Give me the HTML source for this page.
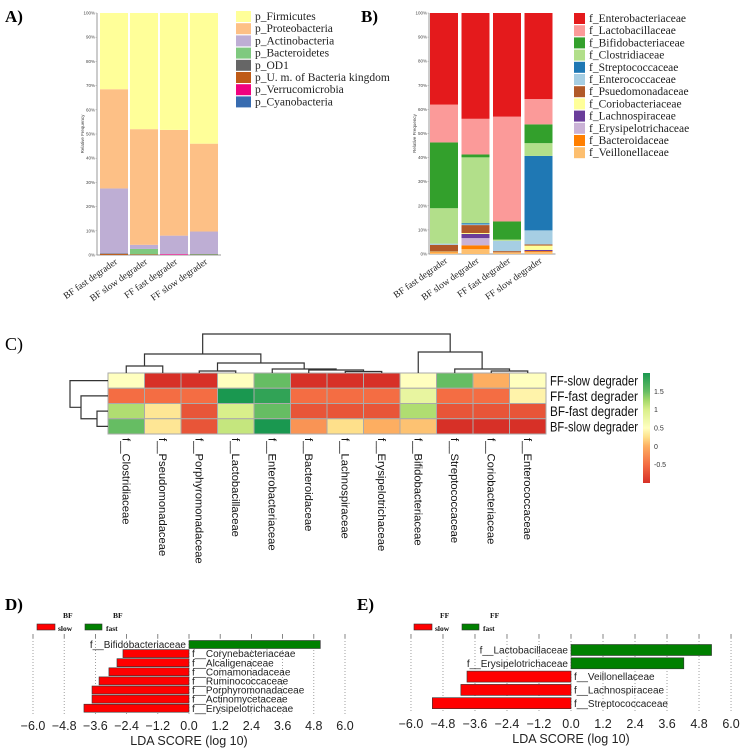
<!DOCTYPE html>
<html><head><meta charset="utf-8"><style>
html,body{margin:0;padding:0;background:#fff;}
svg{display:block;font-family:"Liberation Sans",sans-serif;}
.serif{font-family:"Liberation Serif",serif;}
</style></head><body>
<svg id="fig" width="742" height="749" viewBox="0 0 742 749" xmlns="http://www.w3.org/2000/svg">
<g class="serif" font-weight="bold" font-size="17">
<text x="5" y="22">A)</text>
<text x="361" y="22">B)</text>
<text x="5" y="350" font-weight="normal" font-size="18">C)</text>
<text x="5" y="610">D)</text>
<text x="357" y="610">E)</text>
</g>
<g id="pa"></g>
<g id="pb"></g>
<g id="pc"></g>
<g id="pd"></g>
<g id="pe"></g>
</svg>
<script>
// ---------- Panel A data ----------
const aCategories = ["BF fast degrader","BF slow degrader","FF fast degrader","FF slow degrader"];
const aLegend = ["p_Firmicutes","p_Proteobacteria","p_Actinobacteria","p_Bacteroidetes","p_OD1","p_U. m. of Bacteria kingdom","p_Verrucomicrobia","p_Cyanobacteria"];
const aCyano = [0,0,0,0];
const aVerruco = [0,0,0.3,0];
const aUm = [0.4,0.2,0,0.1];
const aOD1 = [0.2,0.1,0,0.1];
const aBacter = [0,2.2,0,0.2];
const aActino = [26.9,1.7,7.7,9.3];
const aProteo = [41,47.8,43.7,36.3];
const aFirm = [31.5,48,48.3,54];
// ---------- Panel B data ----------
const bLegend = ["f_Enterobacteriaceae","f_Lactobacillaceae","f_Bifidobacteriaceae","f_Clostridiaceae","f_Streptococcaceae","f_Enterococcaceae","f_Psuedomonadaceae","f_Coriobacteriaceae","f_Lachnospiraceae","f_Erysipelotrichaceae","f_Bacteroidaceae","f_Veillonellaceae"];
const bVeill = [0.5,2,0.7,0.8];
const bBacte = [0.3,1.6,0,0.4];
const bErys = [0,3,0,0];
const bLach = [0,1.7,0,0.5];
const bCorio = [0.2,0.4,0,1.8];
const bPsued = [2.8,3.3,0.5,0.5];
const bEntcoc = [0.5,0.3,4.3,5.8];
const bStrep = [0,0.5,0,30.9];
const bClos = [14.7,27.3,0.5,5.3];
const bBifido = [27.3,1.2,7.5,7.8];
const bLacto = [15.7,14.8,43.5,10.5];
const bEntero = [38,43.9,43,35.7];
const pctTicks = ["0%","10%","20%","30%","40%","50%","60%","70%","80%","90%","100%"];
// ---------- Panel C data ----------
const cCols = ["f__Clostridiaceae","f__Pseudomonadaceae","f__Porphyromonadaceae","f__Lactobacillaceae","f__Enterobacteriaceae","f__Bacteroidaceae","f__Lachnospiraceae","f__Erysipelotrichaceae","f__Bifidobacteriaceae","f__Streptococcaceae","f__Coriobacteriaceae","f__Enterococcaceae"];
const cRows = ["FF-slow degrader","FF-fast degrader","BF-fast degrader","BF-slow degrader"];
const cFFslow = [0.5,-1,-1,0.5,1.5,-1,-1,-1,0.5,1.5,0,0.5];
const cFFfast = [-0.5,-0.5,-0.5,2.0,1.85,-0.5,-0.5,-0.5,0.8,-0.5,-0.5,0.4];
const cBFfast = [1.2,0.3,-0.7,1.0,1.5,-0.7,-0.7,-0.7,1.2,-0.7,-0.7,-0.7];
const cBFslow = [1.5,0.3,-0.7,1.1,2.0,-0.2,0.25,0,0.1,-1,-1,-1];
const cTicks = [1.5,1,0.5,0,-0.5];
// ---------- Panel D/E data ----------
const dTaxa = ["f__Bifidobacteriaceae","f__Corynebacteriaceae","f__Alcaligenaceae","f__Comamonadaceae","f__Ruminococcaceae","f__Porphyromonadaceae","f__Actinomycetaceae","f__Erysipelotrichaceae"];
const dScores = [5.05,-2.54,-2.77,-3.08,-3.46,-3.73,-3.73,-4.04];
const eTaxa = ["f__Lactobacillaceae","f__Erysipelotrichaceae","f__Veillonellaceae","f__Lachnospiraceae","f__Streptococcaceae"];
const eScores = [5.27,4.23,-3.9,-4.13,-5.2];
const ldaTicks = [-6.0,-4.8,-3.6,-2.4,-1.2,0.0,1.2,2.4,3.6,4.8,6.0];

const NS="http://www.w3.org/2000/svg";
function mk(parent,tag,attrs,text){const e=document.createElementNS(NS,tag);for(const k in attrs)e.setAttribute(k,attrs[k]);if(text!==undefined)e.textContent=text;parent.appendChild(e);return e;}

function stacked(g,opt){
  const y=v=>opt.y0-(v/100)*(opt.y0-opt.y1);
  const ax=mk(g,'line',{x1:opt.ax,y1:opt.y1,x2:opt.ax,y2:opt.y0,stroke:'#999','stroke-width':1});
  
  
  const bx=mk(g,'line',{x1:opt.ax,y1:opt.y0,x2:opt.bx0+opt.step*3+opt.bw+3,y2:opt.y0,stroke:'#999','stroke-width':1});
  
  
  pctTicks.forEach((t,i)=>{
    const yy=y(i*10);
    const tl=mk(g,'text',{x:opt.ax-2,y:yy+1.5,'font-size':4.5,'text-anchor':'end',fill:'#444'},t);
    
    
    mk(g,'line',{x1:opt.ax-1.5,y1:yy,x2:opt.ax,y2:yy,stroke:'#999','stroke-width':0.5});
  });
  const yt=mk(g,'text',{x:0,y:0,'font-size':4.5,'text-anchor':'middle',fill:'#444',transform:`translate(${opt.ax-13},${(opt.y0+opt.y1)/2}) rotate(-90)`},'Relative Frequency');
  
  
  aCategories.forEach((c,i)=>{
    const x=opt.bx0+i*opt.step;
    let acc=0;
    opt.series.forEach((s,si)=>{
      const v=s[i];
      const r=mk(g,'rect',{x:x,y:y(acc+v),width:opt.bw,height:Math.max(0,y(acc)-y(acc+v)),fill:opt.colors[si]});
      
      
      acc+=v;
    });
    const cx=x+opt.bw/2;
    const lt=mk(g,'text',{x:0,y:0,'font-size':9.5,'text-anchor':'end',class:'serif',fill:'#222',transform:`translate(${cx+4},${opt.y0+8}) rotate(-35)`},c);
    
    
  });
  opt.legend.forEach((l,i)=>{
    const yy=opt.ly+i*12.2;
    const sw=mk(g,'rect',{x:opt.lx,y:yy,width:opt.lsw,height:11,fill:opt.legColors[i]});
    
    
    const lt=mk(g,'text',{x:opt.lx+opt.lsw+4,y:yy+9,'font-size':11.5,class:'serif',fill:'#222'},l);
    
    
  });
}
const aColors=['#386cb0','#f0027f','#bf5b17','#666666','#7fc97f','#beaed4','#fdc086','#ffff99'];
stacked(document.getElementById('pa'),{
  ax:97,y0:255,y1:13,bx0:100,step:30,bw:28,
  series:[aCyano,aVerruco,aUm,aOD1,aBacter,aActino,aProteo,aFirm],colors:aColors,
  legend:aLegend,legColors:aColors.slice().reverse(),lx:236,ly:11,lsw:15});
const bColors=['#fdbf6f','#ff7f00','#cab2d6','#6a3d9a','#ffff99','#b15928','#a6cee3','#1f78b4','#b2df8a','#33a02c','#fb9a99','#e41a1c'];
stacked(document.getElementById('pb'),{
  ax:429,y0:254,y1:13,bx0:430,step:31.5,bw:28,
  series:[bVeill,bBacte,bErys,bLach,bCorio,bPsued,bEntcoc,bStrep,bClos,bBifido,bLacto,bEntero],colors:bColors,
  legend:bLegend,legColors:bColors.slice().reverse(),lx:574,ly:13,lsw:11});

(function(){
  const g=document.getElementById('pc');
  const hx0=108,hx1=546,hy0=373,hy1=434;
  const cw=(hx1-hx0)/cCols.length, rh=(hy1-hy0)/cRows.length;
  const colX=i=>hx0+cw*(i+0.5), rowY=j=>hy0+rh*(j+0.5);
  const stops=[[-1,[215,48,39]],[-0.5,[244,109,67]],[0,[253,174,97]],[0.25,[254,224,139]],[0.5,[255,255,191]],[1,[217,239,139]],[1.25,[166,217,106]],[1.5,[102,189,99]],[2,[26,152,80]]];
  function col(v){v=Math.max(-1,Math.min(2,v));for(let i=0;i<stops.length-1;i++){const a=stops[i],b=stops[i+1];if(v<=b[0]){const t=(v-a[0])/(b[0]-a[0]);const c=a[1].map((x,k)=>Math.round(x+(b[1][k]-x)*t));return `rgb(${c})`;}}return 'rgb(26,152,80)';}
  [cFFslow,cFFfast,cBFfast,cBFslow].forEach((row,j)=>{
    row.forEach((v,i)=>{
      const r=mk(g,'rect',{x:hx0+cw*i,y:hy0+rh*j,width:cw,height:rh,fill:col(v),stroke:'#aaa','stroke-width':1});
      
      
    });
    const t=mk(g,'text',{x:hx1+4,y:rowY(j)+5,'font-size':13.5,fill:'#111',textLength:88,lengthAdjust:'spacingAndGlyphs'},cRows[j]);
    
    
  });
  cCols.forEach((c,i)=>{
    const t=mk(g,'text',{x:0,y:0,'font-size':11.2,fill:'#111',transform:`translate(${colX(i)-4},${hy1+4}) rotate(90)`},c);
    
    
  });
  const dl={stroke:'#333','stroke-width':1.2,fill:'none'};
  function U(xa,xb,ya,yb,y){return `M${xa},${ya}V${y}H${xb}V${yb}`;}
  const top=[
    U(colX(0),colX(1),hy0,hy0,366),
    U(colX(2),colX(3),hy0,hy0,371),
    U(colX(6),colX(7),hy0,hy0,371.5),
    U(colX(5),(colX(6)+colX(7))/2,hy0,371.5,370),
    U(colX(4),(colX(5)+(colX(6)+colX(7))/2)/2,hy0,370,369),
    U((colX(2)+colX(3))/2,(colX(4)+(colX(5)+(colX(6)+colX(7))/2)/2)/2,371,369,363),
    U(colX(10),colX(11),hy0,hy0,371),
    U(colX(9),(colX(10)+colX(11))/2,hy0,371,369),
    U(colX(8),(colX(9)+(colX(10)+colX(11))/2)/2,hy0,369,352)
  ];
  top.forEach(d=>{const p=mk(g,'path',Object.assign({d:d},dl));});
  const lx=(colX(0)+colX(1))/2, rx=((colX(2)+colX(3))/2+(colX(4)+(colX(5)+(colX(6)+colX(7))/2)/2)/2)/2;
  const mL=(lx+rx)/2;
  const rR=(colX(8)+(colX(9)+(colX(10)+colX(11))/2)/2)/2;
  [U(lx,rx,366,363,354),U(mL,rR,354,352,334)].forEach(d=>{const p=mk(g,'path',Object.assign({d:d},dl));});
  function L(ya,yb,xa,xb,x){return `M${xa},${ya}H${x}V${yb}H${xb}`;}
  const m34=(rowY(2)+rowY(3))/2, m234=(rowY(1)+m34)/2;
  [L(rowY(2),rowY(3),hx0,hx0,97),L(rowY(1),m34,hx0,97,81),L(rowY(0),m234,hx0,81,70)].forEach(d=>{const p=mk(g,'path',Object.assign({d:d},dl));});
  const defs=mk(g,'defs',{});
  const lg=mk(defs,'linearGradient',{id:'cbg',x1:0,y1:1,x2:0,y2:0});
  stops.forEach(s=>mk(lg,'stop',{offset:(s[0]+1)/3,'stop-color':`rgb(${s[1]})`}));
  const cb=mk(g,'rect',{x:643,y:373,width:7,height:110,fill:'url(#cbg)'});
  
  
  cTicks.forEach(t=>{
    const yy=373+(2-t)/3*110;
    const tl=mk(g,'text',{x:654,y:yy+2.5,'font-size':7,fill:'#333'},String(t));
    
    
  });
})();

function lda(g,opt){
  const sx=v=>opt.x0+v*opt.k;
  ldaTicks.forEach(t=>{
    const xx=sx(t);
    mk(g,'line',{x1:xx,y1:opt.gy0,x2:xx,y2:opt.gy1,stroke:'#888','stroke-width':0.8,'stroke-dasharray':'1,2'});
    mk(g,'line',{x1:xx,y1:opt.gy0-4,x2:xx,y2:opt.gy0,stroke:'#666','stroke-width':0.8});
    const tl=mk(g,'text',{x:xx,y:opt.ty,'font-size':12.5,'text-anchor':'middle',fill:'#222'},(t<0?'\u2212':'')+Math.abs(t).toFixed(1));
    
    
  });
  const at=mk(g,'text',{x:opt.x0,y:opt.ty+15,'font-size':12.5,'text-anchor':'middle',fill:'#222'},'LDA SCORE (log 10)');
  
  
  opt.scores.forEach((v,i)=>{
    const cy=opt.r0+i*opt.rs;
    const x1=Math.min(sx(0),sx(v)),w=Math.abs(sx(v)-sx(0));
    const r=mk(g,'rect',{x:x1,y:cy-opt.bh/2,width:w,height:opt.bh,fill:v>0?'#008000':'#ff0000',stroke:'#333','stroke-width':0.6});
    
    
    const t=mk(g,'text',{x:v>0?sx(0)-3:sx(0)+3,y:cy+opt.fs*0.36,'font-size':opt.fs,'text-anchor':v>0?'end':'start',fill:'#222'},opt.taxa[i]);
    
    
  });
  const L=opt.leg;
  const r1=mk(g,'rect',{x:L.x,y:L.y,width:18,height:6,fill:'#ff0000',stroke:'#333','stroke-width':0.6});
  
  
  const r2=mk(g,'rect',{x:L.x+48,y:L.y,width:17,height:6,fill:'#008000',stroke:'#333','stroke-width':0.6});
  
  
  [[L.x+21,L.y+7,'slow'],[L.x+69,L.y+7,'fast'],[L.x+26,L.y-6,L.g],[L.x+76,L.y-6,L.g]].forEach(a=>{
    const t=mk(g,'text',{x:a[0],y:a[1],'font-size':7.5,'font-weight':'bold',class:'serif',fill:'#111'},a[2]);
    
    
  });
}
lda(document.getElementById('pd'),{x0:189,k:26,gy0:638,gy1:714,ty:730,r0:644.5,rs:9.1,bh:8,fs:10,taxa:dTaxa,scores:dScores,leg:{x:37,y:624,g:'BF'}});
lda(document.getElementById('pe'),{x0:571,k:26.67,gy0:638,gy1:712,ty:728,r0:650,rs:13.3,bh:11,fs:10,taxa:eTaxa,scores:eScores,leg:{x:414,y:624,g:'FF'}});
</script>
</body></html>
